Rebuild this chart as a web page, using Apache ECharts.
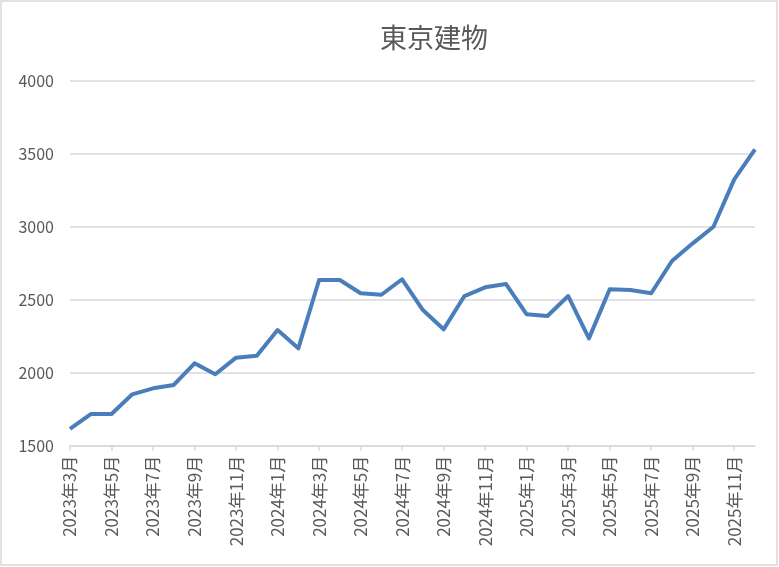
<!DOCTYPE html>
<html>
<head>
<meta charset="utf-8">
<script src="https://cdn.jsdelivr.net/npm/echarts@6/dist/echarts.min.js"></script>
<style>
html,body{margin:0;padding:0;background:#fff;}
#chart{width:779px;height:567px;}
</style>
</head>
<body>
<div id="chart"></div>
<script>
var titleText = "東京建物";
var categories = [
  "2023年3月","2023年4月","2023年5月","2023年6月","2023年7月","2023年8月","2023年9月","2023年10月","2023年11月","2023年12月",
  "2024年1月","2024年2月","2024年3月","2024年4月","2024年5月","2024年6月","2024年7月","2024年8月","2024年9月","2024年10月","2024年11月","2024年12月",
  "2025年1月","2025年2月","2025年3月","2025年4月","2025年5月","2025年6月","2025年7月","2025年8月","2025年9月","2025年10月","2025年11月","2025年12月"
];
var prices = [
  1615, 1717, 1717, 1852, 1893, 1916, 2064, 1989, 2103, 2116,
  2292, 2167, 2635, 2635, 2544, 2534, 2640, 2429, 2297, 2525, 2585, 2608,
  2400, 2388, 2525, 2235, 2571, 2566, 2544, 2765, 2886, 3000, 3324, 3530
];
var yMin = 1500, yMax = 4000, yStep = 500;

var chart = echarts.init(document.getElementById('chart'), null, {renderer: 'canvas'});
var font = '"Noto Sans CJK JP", "Noto Sans", sans-serif';
chart.setOption({
  backgroundColor: '#ffffff',
  animation: false,
  title: {
    text: titleText,
    left: 434,
    top: 24,
    textAlign: 'center',
    padding: 0,
    textStyle: {fontFamily: font, fontSize: 27, fontWeight: 'normal', color: '#595959', letterSpacing: 2}
  },
  graphic: [{
    type: 'rect',
    shape: {x: 1, y: 1, width: 776, height: 564},
    style: {fill: null, stroke: '#d9d9d9', lineWidth: 1.5},
    silent: true
  }],
  grid: {left: 70, right: 24, top: 80.7, bottom: 121.3, containLabel: false},
  xAxis: {
    type: 'category',
    data: categories,
    boundaryGap: false,
    axisLine: {lineStyle: {color: '#d9d9d9', width: 1.5}},
    axisTick: {show: true, interval: 1, length: 5, lineStyle: {color: '#d9d9d9', width: 1.5}},
    axisLabel: {
      interval: 1, rotate: 90, margin: 10,
      fontFamily: font, fontSize: 17, color: '#595959'
    },
    splitLine: {show: false}
  },
  yAxis: {
    type: 'value',
    min: yMin, max: yMax, interval: yStep,
    axisLine: {show: false},
    axisTick: {show: false},
    axisLabel: {margin: 16, fontFamily: font, fontSize: 16, color: '#595959',
      formatter: function (v) { return String(v); }},
    splitLine: {lineStyle: {color: '#d9d9d9', width: 1.5}}
  },
  series: [{
    type: 'line',
    data: prices,
    showSymbol: false,
    symbol: 'none',
    lineStyle: {color: '#4a7ebb', width: 4, join: 'round'},
    itemStyle: {color: '#4a7ebb'}
  }]
});
</script>
</body>
</html>
